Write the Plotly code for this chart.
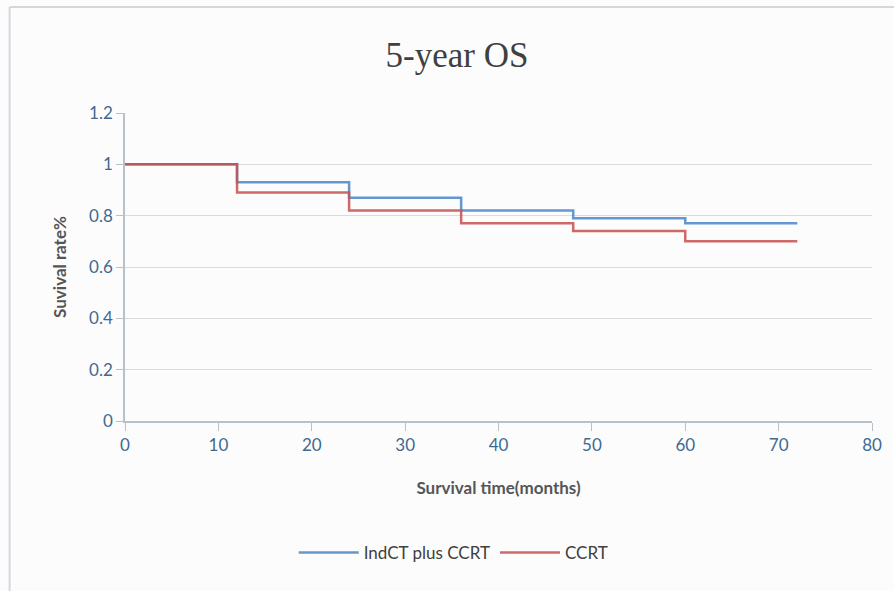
import plotly.graph_objects as go

# Kaplan-Meier style overall survival, yearly steps
months = [0, 12, 24, 36, 48, 60, 72]
indct_ccrt = [1.0, 0.93, 0.87, 0.82, 0.79, 0.77, 0.77]
ccrt = [1.0, 0.89, 0.82, 0.77, 0.74, 0.70, 0.70]

series_names = ["IndCT plus CCRT", "CCRT"]
series_colors = ["#4a86c8", "#c8504e"]

x_ticks = [0, 10, 20, 30, 40, 50, 60, 70, 80]
y_ticks = [0, 0.2, 0.4, 0.6, 0.8, 1.0, 1.2]
y_tick_text = ["0", "0.2", "0.4", "0.6", "0.8", "1", "1.2"]

fig = go.Figure()
for name, vals, col in zip(series_names, [indct_ccrt, ccrt], series_colors):
    fig.add_trace(go.Scatter(
        x=months, y=vals, name=name, mode="lines",
        line=dict(color=col, width=2.5, shape="hv"), opacity=0.85,
    ))

tick_font = dict(family="Lato, Calibri, sans-serif", size=17, color="#3f6a8f")
axis_title_font = dict(family="Lato, Calibri, sans-serif", size=17, color="#555555")

fig.update_layout(
    width=894, height=591,
    margin=dict(l=125, r=18, t=113, b=170),
    paper_bgcolor="#fcfcfd", plot_bgcolor="#fcfcfd",
    title=dict(
        text="5-year OS", x=457 / 894, xanchor="center", xref="container",
        y=1 - 55 / 591, yanchor="middle",
        font=dict(family="Liberation Serif", size=35, color="#404040"),
    ),
    xaxis=dict(
        range=[0, 80], tickvals=x_ticks, ticks="outside", ticklen=8,
        tickcolor="#b8c0c8", showline=True, linecolor="#b8c0c8", linewidth=1.5,
        showgrid=False, zeroline=False, tickfont=tick_font,
        title=dict(text="<b>Survival time(months)</b>", font=axis_title_font, standoff=28),
    ),
    yaxis=dict(
        range=[0, 1.2], tickvals=y_ticks, ticktext=y_tick_text, ticks="outside",
        ticklen=7, tickcolor="#b8c0c8", showline=True, linecolor="#b8c0c8",
        linewidth=1.5, showgrid=True, gridcolor="#d8dcdf", gridwidth=1.2,
        zeroline=False, tickfont=tick_font,
        title=dict(text="<b>Suvival rate%</b>", font=axis_title_font, standoff=18),
    ),
    legend=dict(
        orientation="h", x=(455 - 125) / 751, xanchor="center",
        y=(421 - 553) / 308, yanchor="middle",
        font=dict(family="Lato, Calibri, sans-serif", size=17, color="#404040"),
        bgcolor="rgba(0,0,0,0)", itemwidth=60,
    ),
    showlegend=True,
)

# Thin outer frame of the chart area (top and left edges)
fig.add_shape(type="line", xref="paper", yref="paper",
              x0=(9 - 125) / 751, x1=1.05, y0=(421 - 7) / 308, y1=(421 - 7) / 308,
              line=dict(color="#d4d8dc", width=2))
fig.add_shape(type="line", xref="paper", yref="paper",
              x0=(9 - 125) / 751, x1=(9 - 125) / 751, y0=(421 - 7) / 308, y1=-0.6,
              line=dict(color="#d4d8dc", width=2))

fig.write_html("out.html")
